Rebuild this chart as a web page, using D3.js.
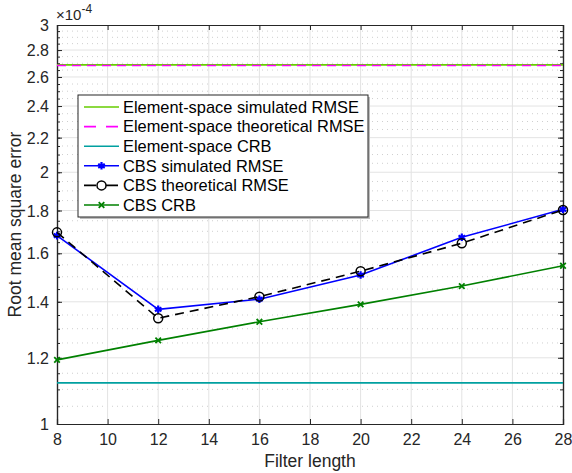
<!DOCTYPE html>
<html>
<head>
<meta charset="utf-8">
<script src="https://cdn.jsdelivr.net/npm/d3@7"></script>
<style>
  body { margin: 0; background: #fff; }
  text { font-family: "Liberation Sans", Arial, sans-serif; }
</style>
</head>
<body>
<svg id="chart" width="572" height="473"></svg>
<script>
// chart data (RMSE values in units of 1e-4)
var filterLength = [8, 12, 16, 20, 24, 28];
var esSimulated = [2.688, 2.688, 2.688, 2.688, 2.688, 2.688];
var esTheoretical = [2.683, 2.683, 2.683, 2.683, 2.683, 2.683];
var esCrb = [1.12, 1.12, 1.12, 1.12, 1.12, 1.12];
var cbsSimulated = [1.680, 1.371, 1.410, 1.507, 1.672, 1.806];
var cbsTheoretical = [1.695, 1.338, 1.420, 1.523, 1.645, 1.803];
var cbsCrb = [1.193, 1.259, 1.325, 1.390, 1.462, 1.546];
var xTicks = [8, 10, 12, 14, 16, 18, 20, 22, 24, 26, 28];
var yTicks = [1, 1.2, 1.4, 1.6, 1.8, 2, 2.2, 2.4, 2.6, 2.8, 3];
var yMinor = d3.range(1, 3.001, 0.05);
var legendNames = ["Element-space simulated RMSE", "Element-space theoretical RMSE", "Element-space CRB",
                   "CBS simulated RMSE", "CBS theoretical RMSE", "CBS CRB"];

var svg = d3.select("#chart");
var mLeft = 57, mRight = 563, mTop = 25, mBottom = 424;
var axisColor = "#262626";

var x = d3.scaleLinear().domain([8, 28]).range([mLeft, mRight]);
var y = d3.scaleLog().domain([1, 3]).range([mBottom, mTop]);

// grid
var grid = svg.append("g");
grid.selectAll("line.minor").data(yMinor.filter(function(v) { return yTicks.every(function(t) { return Math.abs(t - v) > 1e-6; }); }))
  .enter().append("line")
  .attr("x1", mLeft).attr("x2", mRight)
  .attr("y1", function(d) { return y(d); }).attr("y2", function(d) { return y(d); })
  .attr("stroke", "#cfcfcf").attr("stroke-width", 1).attr("stroke-dasharray", "1,4");
grid.selectAll("line.gx").data(xTicks.slice(1, -1)).enter().append("line")
  .attr("x1", function(d) { return x(d); }).attr("x2", function(d) { return x(d); })
  .attr("y1", mTop).attr("y2", mBottom)
  .attr("stroke", "#e3e3e3").attr("stroke-width", 1);
grid.selectAll("line.gy").data(yTicks.slice(1, -1)).enter().append("line")
  .attr("x1", mLeft).attr("x2", mRight)
  .attr("y1", function(d) { return y(d); }).attr("y2", function(d) { return y(d); })
  .attr("stroke", "#e3e3e3").attr("stroke-width", 1);

// axes
var fmt = function(d) { return d3.format("~g")(d); };
var gx = svg.append("g").attr("transform", "translate(0," + mBottom + ")")
  .call(d3.axisBottom(x).tickValues(xTicks).tickSize(-5).tickPadding(10).tickFormat(fmt));
var gxTop = svg.append("g").attr("transform", "translate(0," + mTop + ")")
  .call(d3.axisTop(x).tickValues(xTicks).tickSize(-5).tickFormat(""));
var gy = svg.append("g").attr("transform", "translate(" + mLeft + ",0)")
  .call(d3.axisLeft(y).tickValues(yTicks).tickSize(-5).tickPadding(8).tickFormat(fmt));
var gyR = svg.append("g").attr("transform", "translate(" + mRight + ",0)")
  .call(d3.axisRight(y).tickValues(yTicks).tickSize(-5).tickFormat(""));
var gyMinL = svg.append("g").attr("transform", "translate(" + mLeft + ",0)")
  .call(d3.axisLeft(y).tickValues(yMinor).tickSize(-3).tickFormat(""));
var gyMinR = svg.append("g").attr("transform", "translate(" + mRight + ",0)")
  .call(d3.axisRight(y).tickValues(yMinor).tickSize(-3).tickFormat(""));
[gx, gxTop, gy, gyR, gyMinL, gyMinR].forEach(function(g) {
  g.selectAll("path").attr("stroke", axisColor).attr("stroke-width", 1.2);
  g.selectAll("line").attr("stroke", axisColor);
  g.selectAll("text").attr("fill", axisColor).style("font-size", "16px")
    .style("font-family", "Liberation Sans, Arial, sans-serif");
});
gy.selectAll("text").attr("dy", "0.35em");

// exponent label
var expo = svg.append("text").attr("x", mLeft - 1).attr("y", 20).attr("fill", axisColor).style("font-size", "15px");
expo.append("tspan").text("\u00d710");
expo.append("tspan").attr("dy", -7).style("font-size", "12px").text("-4");

// axis labels
svg.append("text").attr("x", (mLeft + mRight) / 2).attr("y", 467).attr("text-anchor", "middle")
  .attr("fill", axisColor).style("font-size", "17.5px").text("Filter length");
svg.append("text").attr("transform", "translate(21," + (mTop + mBottom) / 2 + ") rotate(-90)")
  .attr("text-anchor", "middle").attr("fill", axisColor).style("font-size", "17.5px").text("Root mean square error");

// series
var series = [
  { values: esSimulated, color: "#66cc00", dash: null, marker: null },
  { values: esTheoretical, color: "#ff00ff", dash: "9,6", marker: null },
  { values: esCrb, color: "#00a0a0", dash: null, marker: null },
  { values: cbsSimulated, color: "#0000ff", dash: null, marker: "star" },
  { values: cbsTheoretical, color: "#000000", dash: "9,6", marker: "circle" },
  { values: cbsCrb, color: "#008000", dash: null, marker: "cross" }
];

var line = d3.line().x(function(d) { return x(d[0]); }).y(function(d) { return y(d[1]); });

function drawMarker(g, type, color, cx, cy) {
  if (type === "circle") {
    g.append("circle").attr("cx", cx).attr("cy", cy).attr("r", 4.5)
      .attr("fill", "#fff").attr("fill-opacity", 0).attr("stroke", color).attr("stroke-width", 1.5);
  } else if (type === "star") {
    g.append("path").attr("d", d3.symbol().type(d3.symbolAsterisk).size(40)())
      .attr("transform", "translate(" + cx + "," + cy + ")")
      .attr("fill", "none").attr("stroke", color).attr("stroke-width", 2.2);
  } else if (type === "cross") {
    g.append("path").attr("d", d3.symbol().type(d3.symbolX).size(22)())
      .attr("transform", "translate(" + cx + "," + cy + ")")
      .attr("fill", "none").attr("stroke", color).attr("stroke-width", 1.8);
  }
}

var plot = svg.append("g");
series.forEach(function(s) {
  var pts = filterLength.map(function(f, i) { return [f, s.values[i]]; });
  plot.append("path").datum(pts).attr("d", line)
    .attr("fill", "none").attr("stroke", s.color).attr("stroke-width", 1.6)
    .attr("stroke-dasharray", s.dash);
  if (s.marker) {
    pts.forEach(function(p) { drawMarker(plot, s.marker, s.color, x(p[0]), y(p[1])); });
  }
});

// legend
var lg = svg.append("g");
var lx = 78, ly = 95, lw = 290, lh = 122;
lg.append("rect").attr("x", lx + 2).attr("y", ly + 2).attr("width", lw).attr("height", lh)
  .attr("fill", "#bdbdbd");
lg.append("rect").attr("x", lx).attr("y", ly).attr("width", lw).attr("height", lh)
  .attr("fill", "#fff").attr("stroke", axisColor).attr("stroke-width", 1);
series.forEach(function(s, i) {
  var ry = ly + 12 + i * 19.6;
  lg.append("line").attr("x1", lx + 6).attr("x2", lx + 41).attr("y1", ry).attr("y2", ry)
    .attr("stroke", s.color).attr("stroke-width", 1.6)
    .attr("stroke-dasharray", s.dash ? "12,10" : null);
  if (s.marker) drawMarker(lg, s.marker, s.color, lx + 23.5, ry);
  lg.append("text").attr("x", lx + 45).attr("y", ry).attr("dy", "0.35em")
    .attr("fill", "#000").style("font-size", "16.4px").text(legendNames[i]);
});
</script>
</body>
</html>
